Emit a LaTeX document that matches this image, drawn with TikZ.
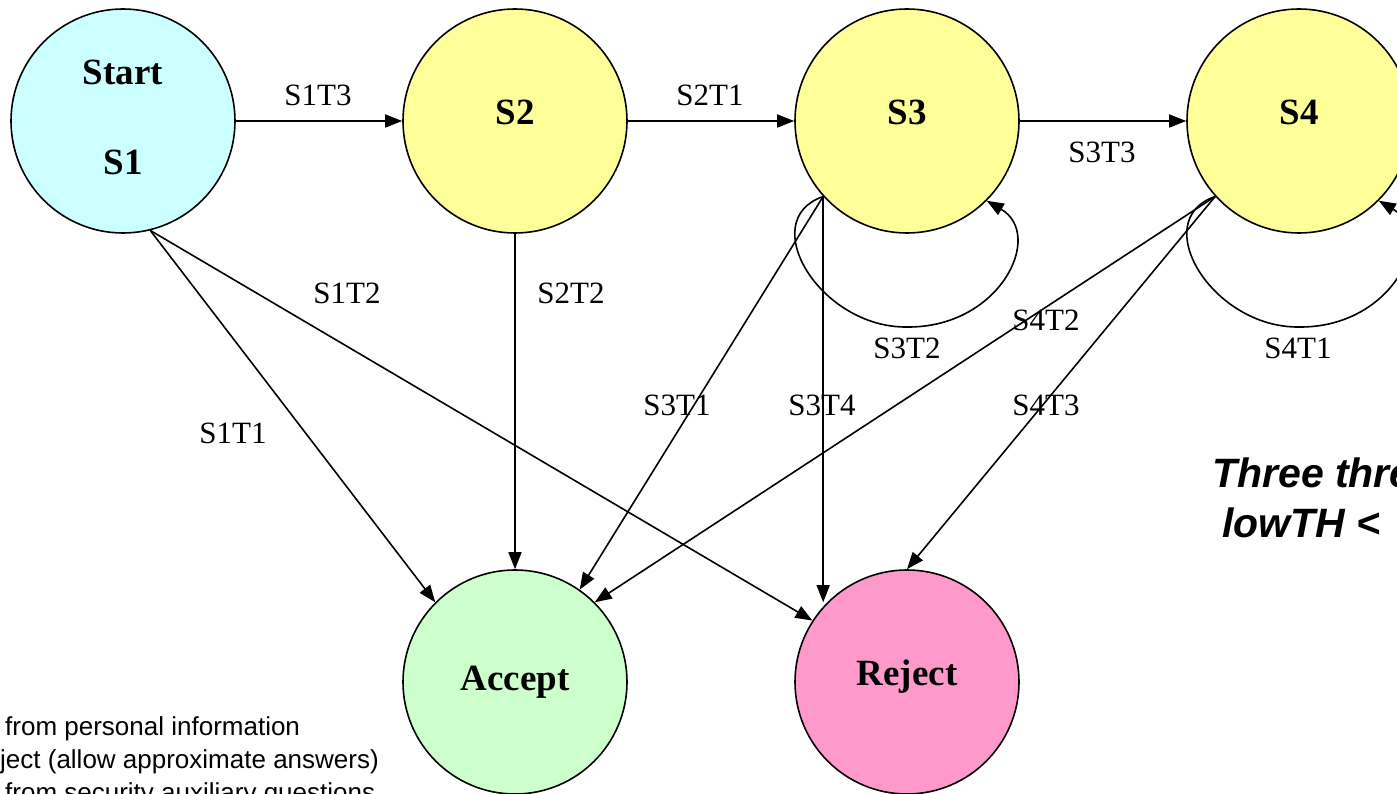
\documentclass[tikz,border=0pt]{standalone}
\usepackage{fontspec}
\setmainfont{Liberation Serif}
\newfontfamily\arialfont{Liberation Sans}
\usetikzlibrary{arrows.meta}
\definecolor{cyanfill}{HTML}{CCFFFF}
\definecolor{yellowfill}{HTML}{FFFF99}
\definecolor{greenfill}{HTML}{CCFFCC}
\definecolor{pinkfill}{HTML}{FF99CC}
\begin{document}
\begin{tikzpicture}[x=1pt,y=-1pt,
  state/.style={circle,draw,line width=1.6pt,minimum size=224pt,inner sep=0pt},
  arr/.style={line width=1.6pt,-{Triangle[length=17pt,width=13pt]}},
  lbl/.style={font=\fontsize{31}{36}\selectfont,inner sep=0pt},
  big/.style={font=\fontsize{37}{42}\selectfont\bfseries,inner sep=0pt,anchor=base},
  note/.style={font=\arialfont\fontsize{26}{30}\selectfont,inner sep=0pt,anchor=base west},
  title/.style={font=\arialfont\fontsize{41}{46}\selectfont\bfseries\itshape,inner sep=0pt,anchor=base west}]
\clip (0,0) rectangle (1397,794);
\fill[white] (0,0) rectangle (1397,794);
% states
\node[state,fill=cyanfill] (s1) at (123,121) {};
\node[state,fill=yellowfill] (s2) at (515,121) {};
\node[state,fill=yellowfill] (s3) at (907,121) {};
\node[state,fill=yellowfill] (s4) at (1299,121) {};
\node[state,fill=greenfill] (acc) at (515,682) {};
\node[state,fill=pinkfill] (rej) at (907,682) {};
% state texts
\node[big] (tstart) at (123,85) {Start};
\node[big] (ts1) at (123,175) {S1};
\node[big] (ts2) at (515,125) {S2};
\node[big] (ts3) at (907,125) {S3};
\node[big] (ts4) at (1299,125) {S4};
\node[big] (tacc) at (515,690) {Accept};
\node[big] (trej) at (907,685) {Reject};
% transitions
\draw[arr] (s1) -- (s2);
\draw[arr] (s2) -- (s3);
\draw[arr] (s3) -- (s4);
\draw[arr] (s1.-76) -- (acc.135);
\draw[arr] (s1.-76) -- (rej.147);
\draw[arr] (s2) -- (acc);
\draw[arr] (s3.222) -- (acc.55);
\draw[arr] (s3.222) -- (s3.222 |- rej.north west);
\draw[arr] (s4.222) -- (acc.45);
\draw[arr] (s4.222) -- (rej.north);
\draw[arr] (s3.222) .. controls (755,220) and (820,328) .. (907,327)
  .. controls (1000,328) and (1045,235) .. (s3.-45);
\draw[arr] (s4.222) .. controls (1147,220) and (1212,328) .. (1299,327)
  .. controls (1392,328) and (1437,235) .. (s4.-45);
% labels
\node[lbl] (l13) at (318,95) {S1T3};
\node[lbl] (l21) at (710,95) {S2T1};
\node[lbl] (l33) at (1102,152) {S3T3};
\node[lbl] (l12) at (347,293) {S1T2};
\node[lbl] (l22) at (571,293) {S2T2};
\node[lbl] (l11) at (233,433) {S1T1};
\node[lbl] (l32) at (907,348) {S3T2};
\node[lbl] (l42) at (1046,320) {S4T2};
\node[lbl] (l41) at (1298,348) {S4T1};
\node[lbl] (l31) at (677,405) {S3T1};
\node[lbl] (l34) at (822,405) {S3T4};
\node[lbl] (l43) at (1046,405) {S4T3};
% side texts
\node[title] (th1) at (1212,487) {Three thre};
\node[title] (th2) at (1222,537) {lowTH <};
\node[note] (n1) at (5,735) {from personal information};
\node[note] (n2) at (0,768) {ject (allow approximate answers)};
\node[note] (n3) at (5,801) {from security auxiliary questions};
\end{tikzpicture}
\end{document}
